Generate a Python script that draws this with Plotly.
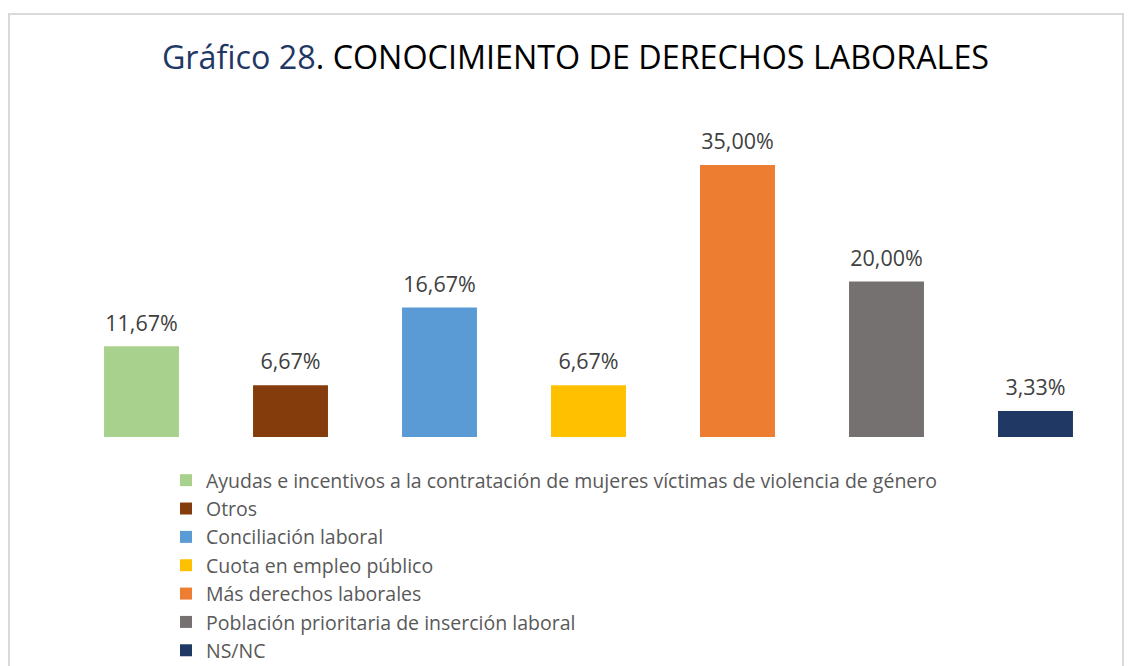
import plotly.graph_objects as go

categories = [
    "Ayudas e incentivos a la contratación de mujeres víctimas de violencia de género",
    "Otros",
    "Conciliación laboral",
    "Cuota en empleo público",
    "Más derechos laborales",
    "Población prioritaria de inserción laboral",
    "NS/NC",
]
values = [11.67, 6.67, 16.67, 6.67, 35.00, 20.00, 3.33]
labels = ["11,67%", "6,67%", "16,67%", "6,67%", "35,00%", "20,00%", "3,33%"]
colors = ["#A9D18E", "#843C0C", "#5B9BD5", "#FFC000", "#ED7D31", "#767171", "#203864"]

FONT = "Open Sans"

fig = go.Figure()
for c, v, col in zip(categories, values, colors):
    fig.add_trace(go.Bar(
        x=[c], y=[v], name=c, marker=dict(color=col, line=dict(width=0)),
        width=0.503, hoverinfo="skip",
    ))

# data labels, placed above each bar value
fig.add_trace(go.Scatter(
    x=categories, y=values, text=labels, mode="markers+text",
    textposition="top center", cliponaxis=False,
    marker=dict(size=15, opacity=0),
    textfont=dict(family=FONT, size=21.5, color="#404040"),
    showlegend=False, hoverinfo="skip",
))

# page body has an 8px margin: figure is drawn at (8, 8) in the window
W, H = 1124, 658
L, R, T = 59, 22, 118
H_PLOT = H - T
W_PLOT = W - L - R
BAR_BASE = 429
dom_low = (H - BAR_BASE) / H_PLOT

fig.update_layout(
    width=W, height=H,
    margin=dict(l=L, r=R, t=T, b=0, autoexpand=False),
    paper_bgcolor="white", plot_bgcolor="white",
    barmode="overlay",
    title=dict(
        text="<span style='color:#1F3864'>Gráfico 28</span>. CONOCIMIENTO DE DERECHOS LABORALES",
        font=dict(family=FONT, size=32.3, color="#000000"),
        x=567.5 / W, xanchor="center", xref="container",
        y=1 - 50 / H, yanchor="middle", yref="container",
    ),
    xaxis=dict(showticklabels=False, showgrid=False, zeroline=False, showline=False,
               categoryorder="array", categoryarray=categories),
    yaxis=dict(range=[0, 40], visible=False, domain=[dom_low, 1]),
    showlegend=True,
    legend=dict(
        orientation="v", x=(158 - L) / W_PLOT, xanchor="left",
        y=(H - 453) / H_PLOT, yanchor="top", traceorder="normal",
        bgcolor="rgba(0,0,0,0)",
        font=dict(family=FONT, size=19.5, color="#595959"),
        itemclick=False,
    ),
    shapes=[dict(type="rect", xref="paper", yref="paper",
                 x0=(1 - L) / W_PLOT, x1=(1115 - L) / W_PLOT,
                 y0=-0.2, y1=(H - 6) / H_PLOT,
                 line=dict(color="#D9D9D9", width=2), layer="below")],
)

fig.write_html("out.html")
